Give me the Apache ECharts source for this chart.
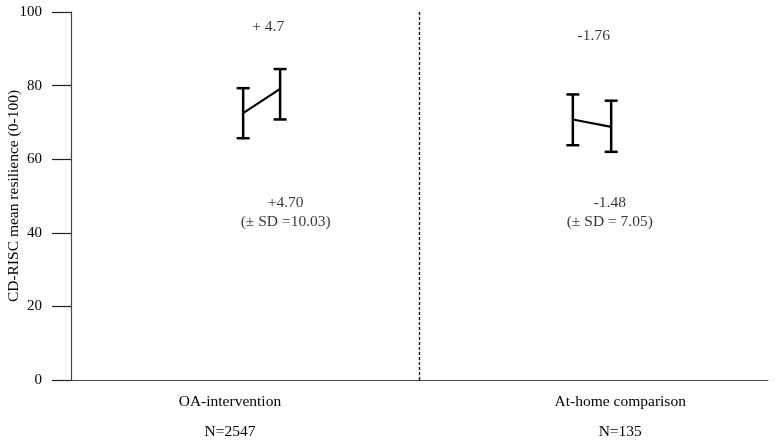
<!DOCTYPE html>
<html>
<head>
<meta charset="utf-8">
<script src="https://cdn.jsdelivr.net/npm/echarts@6/dist/echarts.min.js"></script>
<style>
  html, body { margin: 0; padding: 0; background: #fff; }
  #chart { width: 776px; height: 443px; }
</style>
</head>
<body>
<div id="chart"></div>
<script>
// data
const groups = ['OA-intervention', 'At-home comparison'];
const groupN = ['N=2547', 'N=135'];
const preMean = [72.5, 70.8];
const preLow = [65.7, 63.8];
const preHigh = [79.3, 77.6];
const postMean = [79.1, 68.8];
const postLow = [70.8, 62.0];
const postHigh = [84.5, 75.9];
const changeTop = ['+ 4.7', '-1.76'];
const changeNote = ['+4.70\n(\u00b1 SD =10.03)', '-1.48\n(\u00b1 SD = 7.05)'];
const yTicks = [0, 20, 40, 60, 80, 100];

// layout on a hidden 0-100 horizontal scale
const PRE_X = [24.7, 72.0];
const POST_X = [30.0, 77.5];
const LABEL_X = [22.8, 78.8];
const TOP_X = [28.3, 75.0];
const TOP_Y = [95.9, 93.5];
const NOTE_X = [30.8, 77.3];
const NOTE_Y = 45.5;
const DIVIDER_X = 50;

const FONT = 'Liberation Serif';
const INK = '#000';

const chart = echarts.init(document.getElementById('chart'));

// error bars: [x, low, high]
const barData = [];
groups.forEach((g, i) => {
  barData.push([PRE_X[i], preLow[i], preHigh[i]]);
  barData.push([POST_X[i], postLow[i], postHigh[i]]);
});

function renderBar(params, api) {
  const x = api.value(0);
  const top = api.coord([x, api.value(2)]);
  const bot = api.coord([x, api.value(1)]);
  const half = 6.5;
  const style = { stroke: '#000', lineWidth: 2.5 };
  return {
    type: 'group',
    children: [
      { type: 'line', shape: { x1: top[0], y1: top[1], x2: bot[0], y2: bot[1] }, style },
      { type: 'line', shape: { x1: top[0] - half, y1: top[1], x2: top[0] + half, y2: top[1] }, style },
      { type: 'line', shape: { x1: bot[0] - half, y1: bot[1], x2: bot[0] + half, y2: bot[1] }, style }
    ]
  };
}

const lineSeries = groups.map((g, i) => ({
  type: 'line',
  name: g,
  data: [[PRE_X[i], preMean[i]], [POST_X[i], postMean[i]]],
  symbol: 'none',
  lineStyle: { color: '#000', width: 2.2 },
  z: 3
}));

chart.setOption({
  animation: false,
  grid: { left: 71, right: 8, top: 12, bottom: 63, outerBoundsMode: 'none' },
  xAxis: {
    type: 'value',
    min: 0,
    max: 100,
    splitLine: { show: false },
    axisTick: { show: false },
    axisLine: { show: true, lineStyle: { color: '#444', width: 1.2 } },
    axisLabel: {
      customValues: LABEL_X,
      margin: 7,
      fontFamily: FONT,
      fontSize: 15.5,
      color: INK,
      lineHeight: 30,
      align: 'center',
      formatter: (v) => {
        const i = LABEL_X.indexOf(v);
        return i < 0 ? '' : groups[i] + '\n' + groupN[i];
      }
    }
  },
  yAxis: {
    type: 'value',
    min: yTicks[0],
    max: yTicks[yTicks.length - 1],
    interval: 20,
    name: 'CD-RISC mean resilience (0-100)',
    nameLocation: 'middle',
    nameGap: 49,
    nameMoveOverlap: false,
    nameTextStyle: { fontFamily: FONT, fontSize: 15.5, color: INK },
    splitLine: { show: false },
    axisLine: { show: true, lineStyle: { color: '#444', width: 1.2 } },
    axisTick: { show: true, length: 19, lineStyle: { color: '#222', width: 1.2 } },
    axisLabel: { margin: 29, fontFamily: FONT, fontSize: 15, color: INK }
  },
  series: [
    ...lineSeries,
    {
      type: 'custom',
      renderItem: renderBar,
      data: barData,
      encode: { x: 0, y: [1, 2] },
      z: 4
    },
    {
      type: 'line',
      data: [],
      silent: true,
      markLine: {
        silent: true,
        symbol: 'none',
        label: { show: false },
        lineStyle: { color: '#000', type: [3, 2], width: 1.3 },
        data: [{ xAxis: DIVIDER_X }]
      }
    },
    {
      type: 'scatter',
      silent: true,
      symbolSize: 1,
      itemStyle: { color: 'rgba(0,0,0,0)' },
      data: TOP_X.map((x, i) => [x, TOP_Y[i]]),
      label: {
        show: true,
        position: 'inside',
        fontFamily: FONT,
        fontSize: 15.5,
        color: INK,
        formatter: (p) => changeTop[p.dataIndex]
      }
    },
    {
      type: 'scatter',
      silent: true,
      symbolSize: 1,
      itemStyle: { color: 'rgba(0,0,0,0)' },
      data: NOTE_X.map((x) => [x, NOTE_Y]),
      label: {
        show: true,
        position: 'inside',
        fontFamily: FONT,
        fontSize: 15.5,
        lineHeight: 19,
        color: INK,
        formatter: (p) => changeNote[p.dataIndex]
      }
    }
  ]
});
</script>
</body>
</html>
